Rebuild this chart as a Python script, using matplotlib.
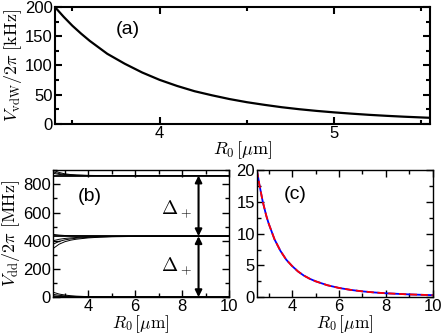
import numpy as np
import matplotlib
matplotlib.use('Agg')
import matplotlib.pyplot as plt
from matplotlib.ticker import MultipleLocator

plt.rcParams['font.family'] = ['Liberation Sans', 'DejaVu Sans']
plt.rcParams['mathtext.fontset'] = 'cm'

# panel (a): van der Waals shift
r_a = [3.4, 3.45, 3.5, 3.55, 3.6, 3.7, 3.8, 3.9, 4.0, 4.1, 4.2, 4.3, 4.4, 4.5,
       4.6, 4.7, 4.8, 4.9, 5.0, 5.1, 5.2, 5.3, 5.4, 5.55]
v_vdw = [200, 183.3, 168, 154.5, 142, 120, 103, 88, 75.4, 65, 56, 49, 42.6,
         37.2, 32.7, 28.6, 25.2, 22.3, 19.8, 17.6, 15.6, 13.9, 12.4, 10.5]

# panel (b): dipole-dipole levels
r_b = [2.5, 2.75, 3.0, 3.25, 3.5, 4.0, 4.5, 5.0, 6.0, 7.0, 8.0, 9.0, 10.0]
top_main = [862] * 13
top_1 = [900, 884, 874, 869, 866, 863, 862, 862, 862, 862, 862, 862, 862]
top_2 = [888, 876, 869, 866, 864, 862.5, 862, 862, 862, 862, 862, 862, 862]
top_3 = [878, 870, 866, 864, 863, 862, 862, 862, 862, 862, 862, 862, 862]
mid_main = [432] * 13
mid_1 = [445, 440, 437, 435, 434, 433, 432.5, 432, 432, 432, 432, 432, 432]
mid_2 = [400, 410, 416, 420, 423, 427, 429, 430, 431.5, 432, 432, 432, 432]
mid_3 = [375, 395, 406, 413, 418, 424, 427.5, 429.5, 431, 432, 432, 432, 432]
mid_4 = [345, 375, 393, 404, 411, 420, 425, 428, 430.5, 431.5, 432, 432, 432]
bot_main = [0] * 13
bot_1 = [35, 22, 15, 10, 7, 3.5, 2, 1, 0.3, 0, 0, 0, 0]
bot_2 = [20, 13, 9, 6, 4, 2, 1, 0.5, 0.2, 0, 0, 0, 0]
bot_3 = [10, 6, 4, 3, 2, 1, 0.5, 0.2, 0, 0, 0, 0, 0]

# panel (c)
r_c = [2.5, 2.6, 2.75, 2.9, 3.0, 3.25, 3.5, 3.75, 4.0, 4.25, 4.5, 4.75, 5.0,
       5.5, 6.0, 6.5, 7.0, 7.5, 8.0, 9.0, 10.0]
y_c = [20, 17.8, 15.0, 12.8, 11.6, 9.1, 7.3, 5.9, 4.9, 4.05, 3.4, 2.9, 2.5,
       1.88, 1.45, 1.14, 0.91, 0.74, 0.61, 0.43, 0.31]

xlab = r'$R_0\,[\mu{\rm m}]$'

fig = plt.figure(figsize=(4.43, 3.35), dpi=100)
ax_a = fig.add_axes([0.124, 0.630, 0.847, 0.349])
ax_b = fig.add_axes([0.120, 0.113, 0.397, 0.379])
ax_c = fig.add_axes([0.580, 0.113, 0.397, 0.379])


def style(ax, lw):
    ax.tick_params(which='both', direction='in', top=True, right=True,
                   labelsize=12, width=lw, pad=1.5)
    ax.tick_params(which='major', length=5)
    ax.tick_params(which='minor', length=3)
    for s in ax.spines.values():
        s.set_linewidth(lw)


ax_a.plot(r_a, v_vdw, color='black', lw=1.6)
ax_a.set_xlim(3.4, 5.55)
ax_a.set_ylim(0, 200)
ax_a.xaxis.set_major_locator(MultipleLocator(1))
ax_a.xaxis.set_minor_locator(MultipleLocator(0.5))
ax_a.yaxis.set_major_locator(MultipleLocator(50))
ax_a.yaxis.set_minor_locator(MultipleLocator(25))
ax_a.set_xlabel(xlab, fontsize=13, labelpad=-1)
ax_a.set_ylabel(r'$V_{\rm vdW}/2\pi\ [{\rm kHz}]$', fontsize=13, labelpad=1)
ax_a.text(3.82, 162, '(a)', fontsize=14, ha='center', va='center')
style(ax_a, 1.5)

for ys in [top_1, top_2, top_3, mid_1, mid_2, mid_3, mid_4, bot_1, bot_2, bot_3]:
    ax_b.plot(r_b, ys, color='black', lw=0.7)
for ys in [top_main, mid_main, bot_main]:
    ax_b.plot(r_b, ys, color='black', lw=1.3)
ax_b.annotate('', xy=(8.7, 0), xytext=(8.7, 432),
              arrowprops=dict(arrowstyle='<|-|>', color='black', lw=1.5,
                              mutation_scale=10, shrinkA=0, shrinkB=0))
ax_b.annotate('', xy=(8.7, 432), xytext=(8.7, 862),
              arrowprops=dict(arrowstyle='<|-|>', color='black', lw=1.5,
                              mutation_scale=10, shrinkA=0, shrinkB=0))
ax_b.text(7.75, 625, r'$\Delta_+$', fontsize=14, ha='center', va='center')
ax_b.text(7.75, 220, r'$\Delta_+$', fontsize=14, ha='center', va='center')
ax_b.text(4.05, 715, '(b)', fontsize=14, ha='center', va='center')
ax_b.set_xlim(2.5, 10)
ax_b.set_ylim(0, 900)
ax_b.xaxis.set_major_locator(MultipleLocator(2))
ax_b.xaxis.set_minor_locator(MultipleLocator(1))
ax_b.yaxis.set_major_locator(MultipleLocator(200))
ax_b.yaxis.set_minor_locator(MultipleLocator(100))
ax_b.set_xlabel(xlab, fontsize=12.5, labelpad=-0.5)
ax_b.set_ylabel(r'$V_{\rm dd}/2\pi\ [{\rm MHz}]$', fontsize=13, labelpad=1)
style(ax_b, 1.0)

ax_c.plot(r_c, y_c, color='blue', lw=1.3)
ax_c.plot(r_c, y_c, color='red', lw=1.3, ls=(0, (4, 2)))
ax_c.text(4.15, 16.2, '(c)', fontsize=14, ha='center', va='center')
ax_c.set_xlim(2.5, 10)
ax_c.set_ylim(0, 20)
ax_c.xaxis.set_major_locator(MultipleLocator(2))
ax_c.xaxis.set_minor_locator(MultipleLocator(1))
ax_c.yaxis.set_major_locator(MultipleLocator(5))
ax_c.yaxis.set_minor_locator(MultipleLocator(2.5))
ax_c.set_xlabel(xlab, fontsize=12.5, labelpad=-0.5)
style(ax_c, 1.0)

fig.savefig('out.png', dpi=100)
